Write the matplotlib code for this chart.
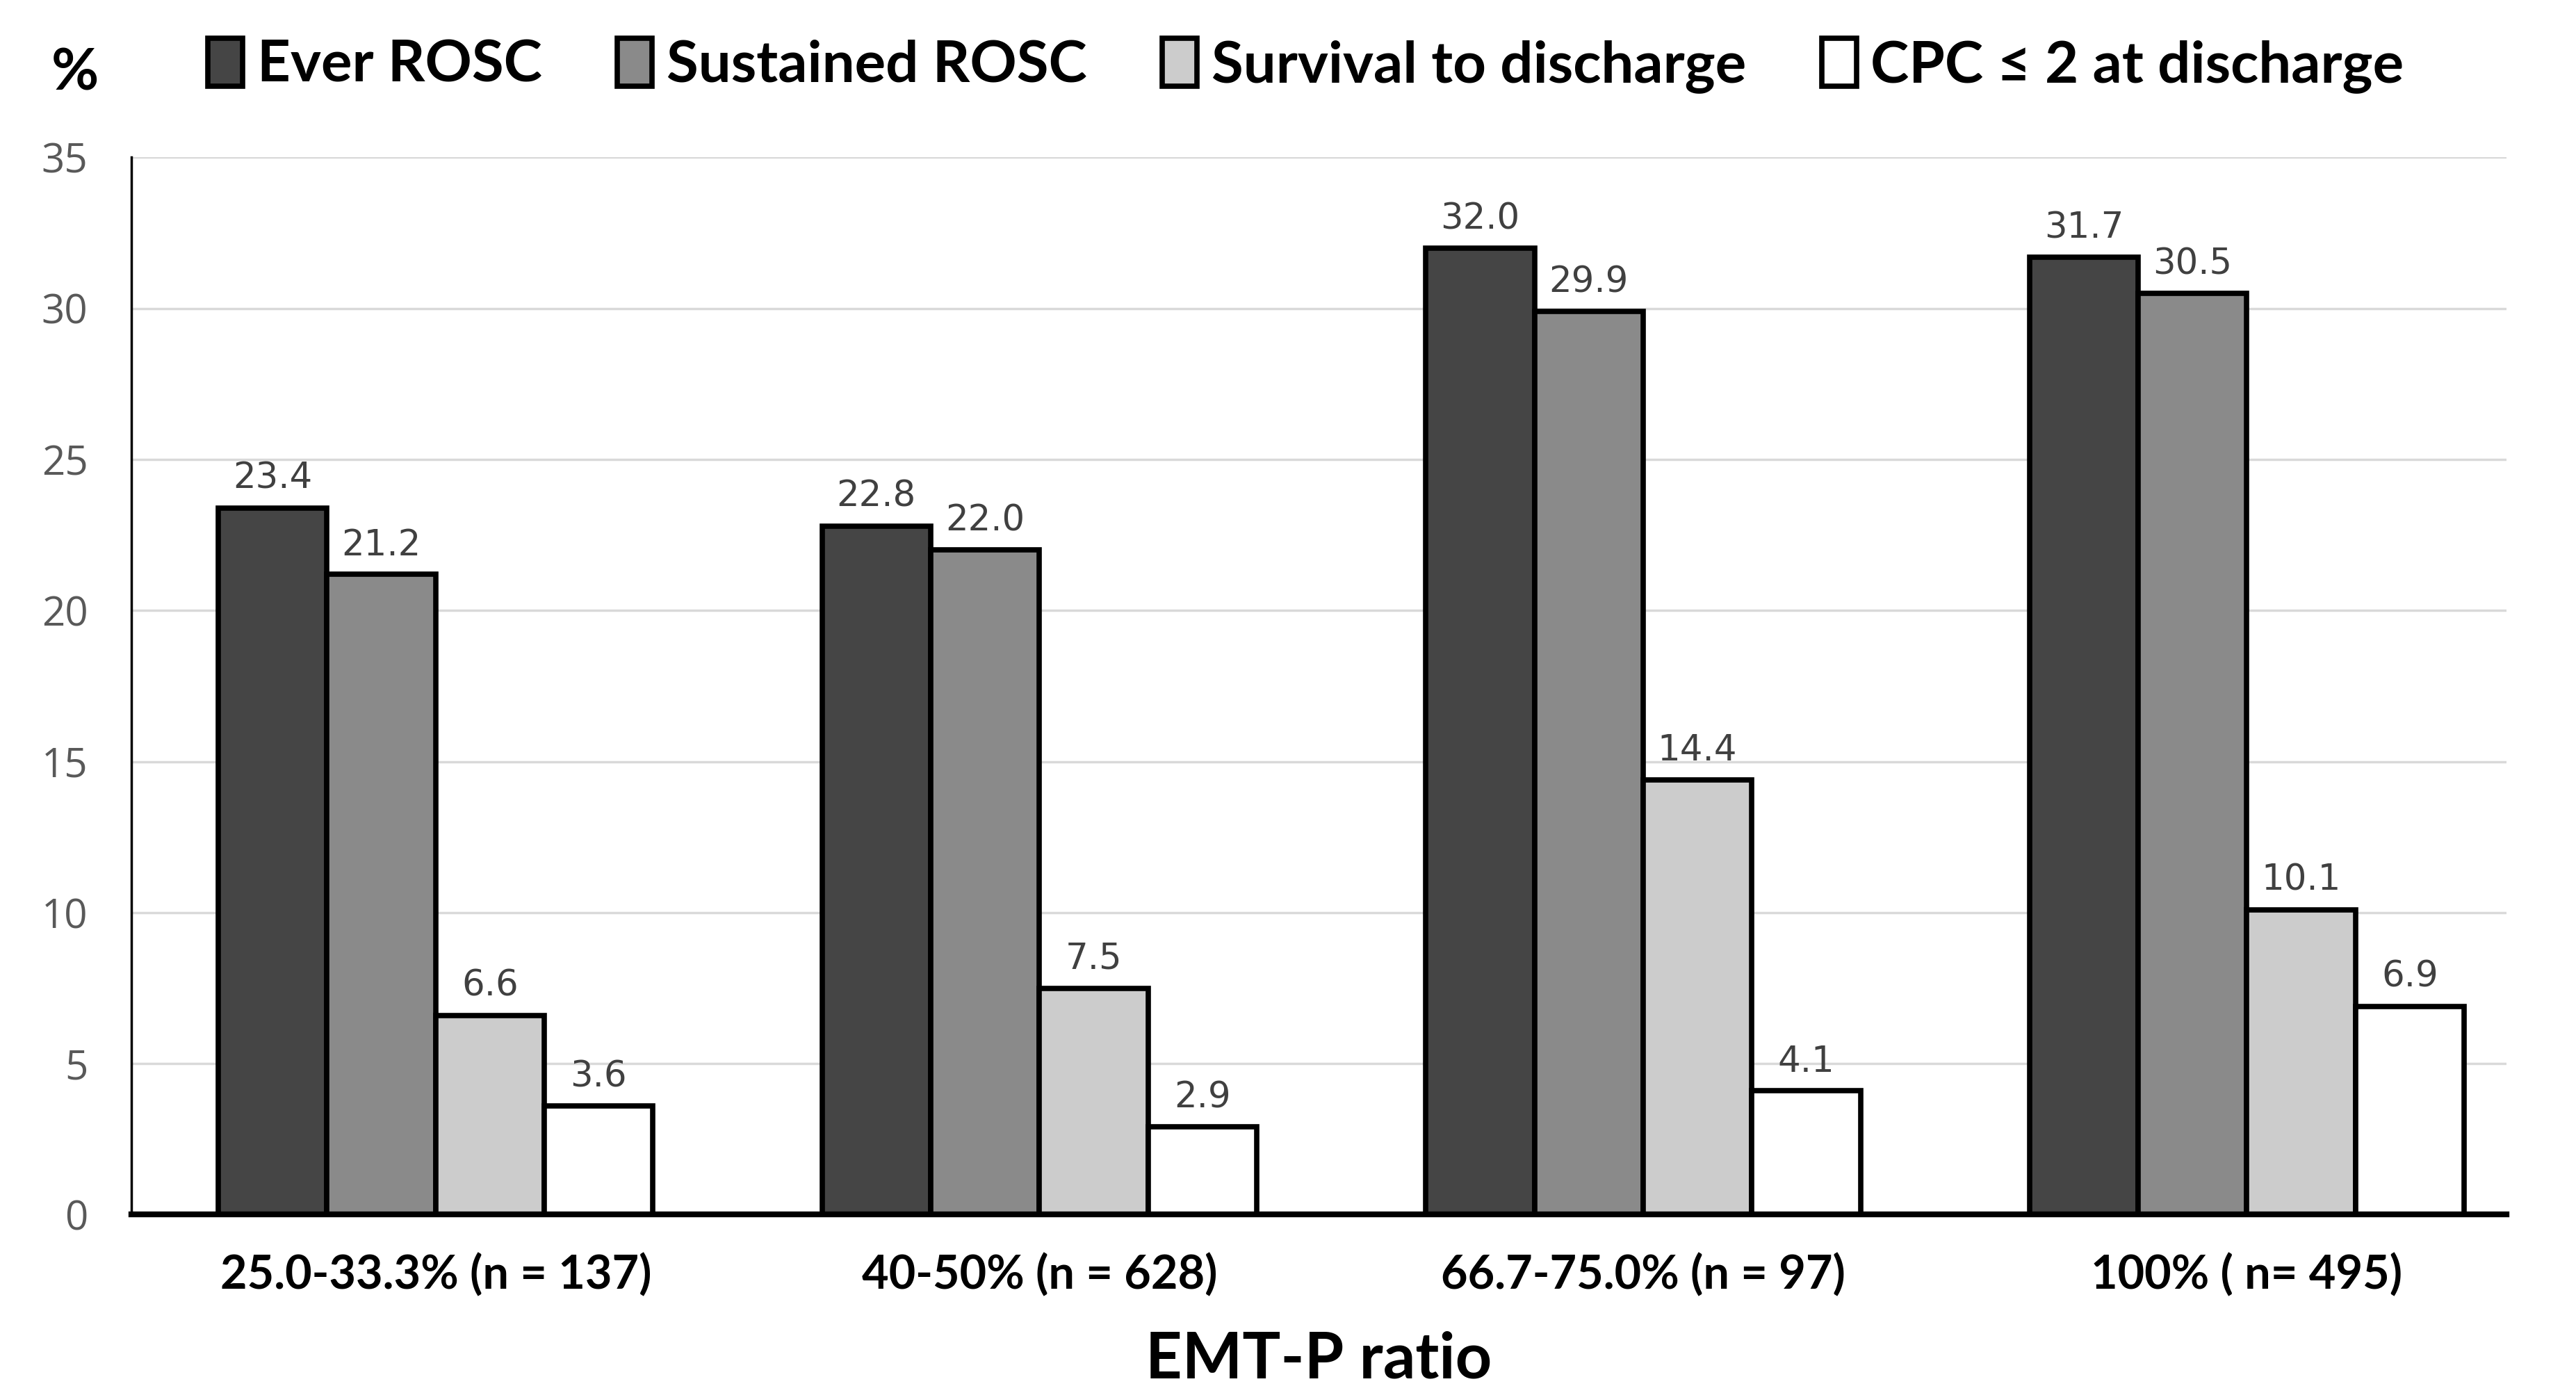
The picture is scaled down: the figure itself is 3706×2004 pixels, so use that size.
import matplotlib
matplotlib.use("Agg")
from matplotlib import pyplot as plt
import numpy as np

groups = ["25.0-33.3% (n = 137)", "40-50% (n = 628)", "66.7-75.0% (n = 97)", "100% ( n= 495)"]
series = ["Ever ROSC", "Sustained ROSC", "Survival to discharge", "CPC \u2264 2 at discharge"]
ever_rosc = [23.4, 22.8, 32.0, 31.7]
sustained_rosc = [21.2, 22.0, 29.9, 30.5]
survival = [6.6, 7.5, 14.4, 10.1]
cpc = [3.6, 2.9, 4.1, 6.9]
colors = ["#454545", "#8a8a8a", "#cccccc", "#ffffff"]
yticks = [0, 5, 10, 15, 20, 25, 30, 35]

fig = plt.figure(figsize=(37.06, 20.04), dpi=100)
ax = fig.add_axes([0.051, 0.128, 0.922, 0.759])

x = np.arange(len(groups))
w = 0.18
for i, (vals, name) in enumerate(zip([ever_rosc, sustained_rosc, survival, cpc], series)):
    pos = x + (i - 1.5) * w
    bars = ax.bar(pos, vals, w, color=colors[i], edgecolor="black", linewidth=5.5, label=name, zorder=3)
    for b, v in zip(bars, vals):
        ax.annotate(f"{v:.1f}", (b.get_x() + b.get_width() / 2, v), xytext=(0, 12),
                    textcoords="offset points", ha="center", va="bottom",
                    fontsize=37, color="#404040", family="DejaVu Sans")

ax.set_xlim(-0.504, 3.43)
ax.set_ylim(0, 35)
ax.set_yticks(yticks)
ax.yaxis.grid(True, color="#d9d9d9", linewidth=2.5, zorder=0)
ax.set_axisbelow(True)
for s in ["top", "right"]:
    ax.spines[s].set_visible(False)
ax.spines["left"].set_linewidth(2.5)
ax.spines["bottom"].set_linewidth(6)
ax.spines["bottom"].set_zorder(4)
ax.tick_params(axis="y", length=0, pad=45, labelsize=42, labelcolor="#595959")
ax.tick_params(axis="x", length=0, pad=40)
ax.set_xticks(x)
ax.set_xticklabels(groups, fontsize=48, fontweight="bold", family="Lato")
for t in ax.get_yticklabels():
    t.set_family("Open Sans")
ax.set_xlabel("EMT-P ratio", fontsize=66, fontweight="bold", family="Lato", labelpad=35)

fig.text(0.029, 0.947, "%", fontsize=60, fontweight="bold", family="Lato", ha="center", va="center")
leg = fig.legend(loc="center", bbox_to_anchor=(0.507, 0.953), ncol=4, frameon=False,
                 prop={"family": ["Lato", "DejaVu Sans"], "weight": "bold", "size": 60},
                 handlelength=0.6, handleheight=0.9, handletextpad=0.25, columnspacing=1.3)

fig.savefig("out.png", dpi=100)
